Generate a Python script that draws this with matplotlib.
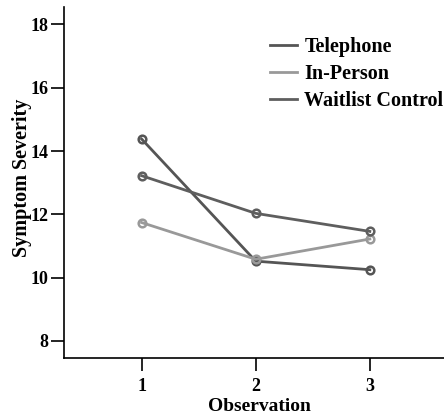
import matplotlib
matplotlib.use("Agg")
import matplotlib.pyplot as plt

observations = [1, 2, 3]
telephone = [14.38, 10.52, 10.25]
in_person = [11.74, 10.58, 11.22]
waitlist = [13.22, 12.03, 11.46]
series_names = ["Telephone", "In-Person", "Waitlist Control"]
y_ticks = [8, 10, 12, 14, 16, 18]

plt.rcParams['font.family'] = ['Liberation Serif', 'DejaVu Serif']
plt.rcParams['font.weight'] = 'bold'

fig = plt.figure(figsize=(4.44, 4.19), dpi=100)
ax = fig.add_axes([64/444, 1-358/419, (444-64)/444, (358-7)/419])

colors = ["#555555", "#999999", "#5e5e5e"]
for vals, name, c in zip([telephone, in_person, waitlist], series_names, colors):
    ax.plot(observations, vals, color=c, lw=2, marker='o', ms=5.5,
            mfc='none', mec=c, mew=1.8, label=name)

ax.set_xlim(0.32, 3.65)
ax.set_ylim(7.46, 18.55)
ax.set_xticks(observations)
ax.set_yticks(y_ticks)
for s in ['top', 'right']:
    ax.spines[s].set_visible(False)
for s in ['left', 'bottom']:
    ax.spines[s].set_linewidth(1.2)
ax.tick_params(axis='y', labelsize=13, length=9.5, width=1.2, direction='out', pad=1.5)
ax.tick_params(axis='x', labelsize=13, length=9.5, width=1.2, direction='out', pad=5)
for lbl in ax.get_xticklabels() + ax.get_yticklabels():
    lbl.set_fontweight('bold')
ax.set_xlabel("Observation", fontsize=14, fontweight='bold')
ax.xaxis.set_label_coords(0.514, -0.113)
ax.set_ylabel("Symptom Severity", fontsize=14.5, fontweight='bold')
ax.yaxis.set_label_coords(-0.084, 0.513)

leg = ax.legend(loc='upper left', bbox_to_anchor=(0.505, 0.954), frameon=False,
                prop={'size': 14.5, 'weight': 'bold'}, handlelength=1.35,
                handletextpad=0.35, labelspacing=0.35, markerscale=0,
                borderpad=0.2)
for h in leg.legend_handles:
    h.set_marker('')

fig.savefig("out.png", dpi=100)
